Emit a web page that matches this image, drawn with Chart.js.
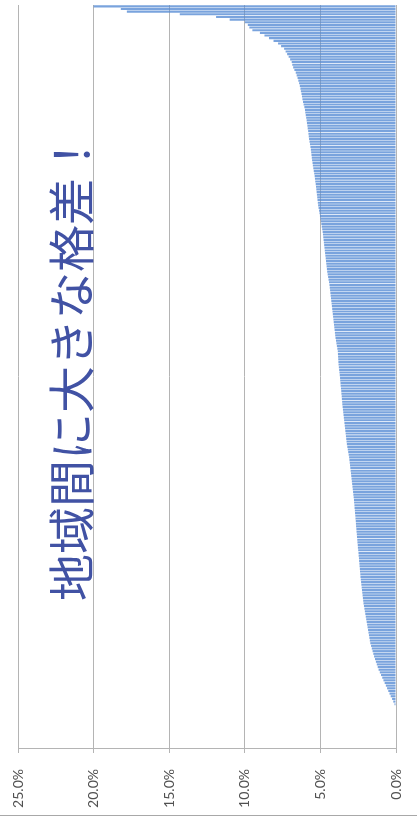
<!DOCTYPE html>
<html lang="ja">
<head>
<meta charset="utf-8">
<title>地域間に大きな格差！</title>
<script src="https://cdn.jsdelivr.net/npm/chart.js@4.4.1/dist/chart.umd.min.js"></script>
<style>
  html, body { margin: 0; padding: 0; background: #fff; }
  #wrap { position: relative; width: 417px; height: 820px; }
</style>
</head>
<body>
<div id="wrap"><canvas id="chart" width="417" height="820"></canvas></div>
<script>
// 地域別の比率（%）、大きい順。末尾はデータなし（0）
const rates = [
  20.0, 18.2, 17.8, 14.3, 11.9, 11.0, 10.0, 9.8, 9.7, 9.5,
  9.0, 8.7, 8.4, 8.1, 7.8, 7.6, 7.4, 7.3, 7.2, 7.1,
  7.0, 6.9, 6.86, 6.8, 6.72, 6.63, 6.57, 6.51, 6.46, 6.41,
  6.36, 6.32, 6.29, 6.25, 6.22, 6.19, 6.15, 6.11, 6.06, 6.02,
  6.0, 5.97, 5.94, 5.91, 5.89, 5.86, 5.84, 5.81, 5.79, 5.77,
  5.75, 5.72, 5.69, 5.66, 5.63, 5.61, 5.59, 5.57, 5.55, 5.52,
  5.50, 5.47, 5.44, 5.41, 5.38, 5.36, 5.34, 5.31, 5.29, 5.27,
  5.25, 5.23, 5.21, 5.19, 5.17, 5.15, 5.12, 5.09, 5.06, 5.03,
  5.00, 4.97, 4.94, 4.91, 4.88, 4.85, 4.83, 4.81, 4.79, 4.77,
  4.75, 4.73, 4.71, 4.69, 4.67, 4.65, 4.63, 4.61, 4.59, 4.57,
  4.55, 4.52, 4.49, 4.46, 4.43, 4.40, 4.38, 4.36, 4.34, 4.32,
  4.30, 4.28, 4.26, 4.24, 4.22, 4.20, 4.18, 4.16, 4.14, 4.12,
  4.10, 4.08, 4.06, 4.04, 4.02, 4.00, 3.97, 3.94, 3.91, 3.88,
  3.85, 3.84, 3.83, 3.82, 3.81, 3.80, 3.78, 3.76, 3.74, 3.72,
  3.70, 3.69, 3.67, 3.66, 3.64, 3.62, 3.61, 3.59, 3.58, 3.56,
  3.55, 3.53, 3.51, 3.49, 3.47, 3.45, 3.43, 3.41, 3.39, 3.37,
  3.35, 3.33, 3.31, 3.29, 3.27, 3.25, 3.22, 3.19, 3.16, 3.13,
  3.10, 3.08, 3.06, 3.04, 3.02, 3.00, 2.98, 2.96, 2.94, 2.92,
  2.90, 2.88, 2.86, 2.84, 2.82, 2.80, 2.78, 2.77, 2.75, 2.74,
  2.72, 2.71, 2.69, 2.68, 2.66, 2.65, 2.64, 2.62, 2.61, 2.59,
  2.58, 2.56, 2.55, 2.53, 2.52, 2.50, 2.48, 2.47, 2.45, 2.44,
  2.42, 2.41, 2.39, 2.38, 2.36, 2.35, 2.33, 2.31, 2.29, 2.27,
  2.25, 2.23, 2.21, 2.19, 2.17, 2.15, 2.12, 2.09, 2.06, 2.03,
  2.00, 1.97, 1.94, 1.91, 1.88, 1.85, 1.82, 1.79, 1.76, 1.73,
  1.70, 1.65, 1.60, 1.55, 1.50, 1.45, 1.39, 1.33, 1.27, 1.21,
  1.15, 1.07, 0.99, 0.91, 0.83, 0.75, 0.67, 0.59, 0.51, 0.43,
  0.35, 0.26, 0.18, 0.10,
  0, 0, 0, 0, 0, 0, 0, 0, 0, 0, 0, 0, 0, 0, 0, 0
];
const regions = rates.map((_, i) => String(i + 1));
const axisTicks = [0, 5, 10, 15, 20, 25];
const headline = '地域間に大きな格差！';

const GRID = '#b4b4b4';

// 見出しをプロット内に縦書き（下から上）で描く
const headlinePlugin = {
  id: 'headline',
  afterDatasetsDraw(chart) {
    const ctx = chart.ctx;
    ctx.save();
    ctx.translate(71, 366);
    ctx.rotate(-Math.PI / 2);
    ctx.font = '47px "Noto Sans CJK JP"';
    ctx.fillStyle = '#4152a4';
    ctx.textAlign = 'center';
    ctx.textBaseline = 'middle';
    ctx.fillText(headline, 0, 0);
    ctx.restore();
  }
};

// 図の下端の枠線
const frameRule = {
  id: 'frameRule',
  afterDraw(chart) {
    const ctx = chart.ctx;
    ctx.save();
    ctx.strokeStyle = '#a8a8a8';
    ctx.lineWidth = 1;
    ctx.beginPath();
    ctx.moveTo(0, 815.5);
    ctx.lineTo(chart.width, 815.5);
    ctx.stroke();
    ctx.restore();
  }
};

new Chart(document.getElementById('chart'), {
  type: 'bar',
  data: {
    labels: regions,
    datasets: [{
      data: rates,
      backgroundColor: 'rgba(88, 140, 212, 0.8)',
      borderWidth: 0,
      barPercentage: 1,
      categoryPercentage: 0.8
    }]
  },
  options: {
    indexAxis: 'y',
    responsive: false,
    animation: false,
    layout: { padding: { left: 18, right: 13, top: 5, bottom: 0 } },
    plugins: {
      legend: { display: false },
      tooltip: { enabled: false }
    },
    scales: {
      x: {
        type: 'linear',
        reverse: true,
        min: 0,
        max: 25,
        afterBuildTicks(scale) {
          scale.ticks = axisTicks.map(v => ({ value: v }));
        },
        afterFit(scale) {
          scale.height = 72;
        },
        ticks: {
          callback: v => v.toFixed(1) + '%',
          minRotation: 90,
          maxRotation: 90,
          padding: 16,
          color: '#505050',
          font: { family: 'Lato', size: 14 }
        },
        grid: { color: GRID, tickLength: 5 },
        border: { color: GRID }
      },
      y: {
        position: 'right',
        ticks: { display: false },
        grid: { display: false },
        border: { display: false }
      }
    }
  },
  plugins: [headlinePlugin, frameRule]
});
</script>
</body>
</html>
